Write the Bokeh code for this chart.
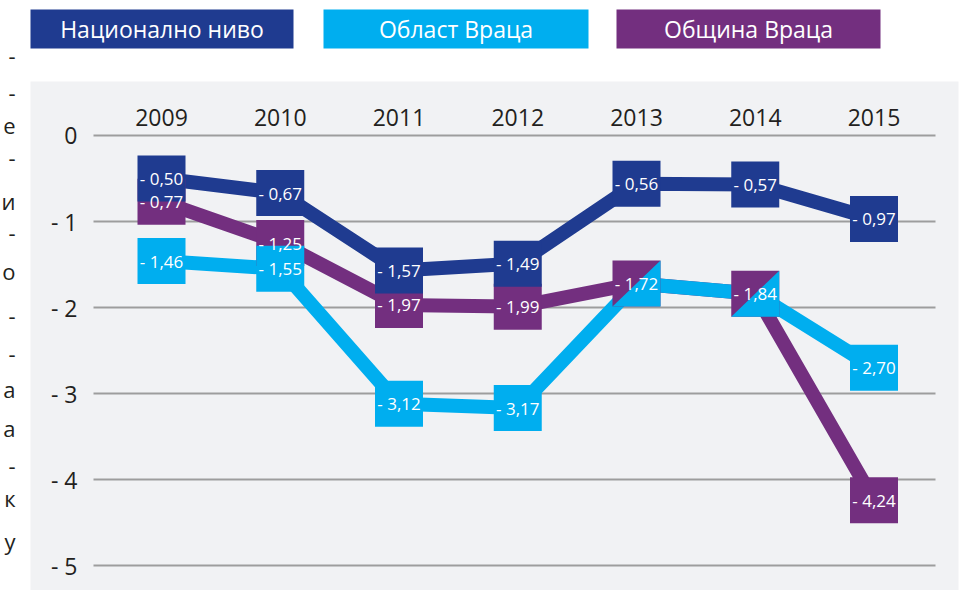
from bokeh.plotting import figure
from bokeh.models import Range1d
from bokeh.embed import file_html
from bokeh.resources import INLINE
from bokeh.core.properties import value

# ---------------- data ----------------
years = [2009, 2010, 2011, 2012, 2013, 2014, 2015]
national = [-0.50, -0.67, -1.57, -1.49, -0.56, -0.57, -0.97]
region = [-1.46, -1.55, -3.12, -3.17, -1.72, -1.84, -2.70]
municipality = [-0.77, -1.25, -1.97, -1.99, -1.72, -1.84, -4.24]
series_names = ["Национално ниво", "Област Враца", "Община Враца"]
shared_years = [2013, 2014]          # years where region & municipality share one label box
y_ticks = [0, -1, -2, -3, -4, -5]
y_tick_labels = ["0", "- 1", "- 2", "- 3", "- 4", "- 5"]
year_labels = ["2009", "2010", "2011", "2012", "2013", "2014", "2015"]

# clipped text fragments of the neighbouring page column (left edge)
strip_chars = ["-", "-", "e", "-", "и", "-", "о", "-", "-", "а", "а", "-", "к", "у"]

# ---------------- styles ----------------
C_NAT = "#1f3b90"
C_REG = "#00aeef"
C_MUN = "#732f7f"
PANEL = "#f1f2f4"
GRID = "#9d9d9d"
TXT = "#231f20"
FONT = "Open Sans"


def fmt(v):
    return "- " + f"{abs(v):.2f}".replace(".", ",")


W, H = 960, 590
# pixel-space layout ranges (canvas coordinates) + data ranges for the chart
YEAR_PX0, YEAR_STEP = 161.0, 118.75     # screen position of first year, px per year
VAL_PX0, VAL_STEP = 135.0, 86.0         # screen position of value 0, px per unit
yr_start = years[0] - YEAR_PX0 / YEAR_STEP
yr_end = yr_start + W / YEAR_STEP
v_top = VAL_PX0 / VAL_STEP
v_bot = v_top - H / VAL_STEP

p = figure(width=W, height=H, x_range=Range1d(0, W), y_range=Range1d(H, 0),
           output_backend="svg", toolbar_location=None, min_border=0,
           x_axis_location=None, y_axis_location=None)
p.extra_x_ranges = {"yrs": Range1d(yr_start, yr_end)}
p.extra_y_ranges = {"vals": Range1d(v_bot, v_top)}
p.outline_line_color = None
p.background_fill_color = "white"
p.border_fill_color = "white"
p.grid.visible = False

# grey panel
p.quad(left=[30], right=[958], top=[81], bottom=[H], fill_color=PANEL, line_color=None)

# horizontal grid lines + y tick labels
p.segment(x0=[93] * len(y_ticks), x1=[935] * len(y_ticks), y0=y_ticks, y1=y_ticks,
          y_range_name="vals", line_color=GRID, line_width=2)
p.text(x=[77] * len(y_ticks), y=y_ticks, text=y_tick_labels, y_range_name="vals",
       text_align="right", text_baseline="middle", text_color=TXT,
       text_font=value(FONT), text_font_size="23px")
# year labels (top)
p.text(x=years, y=[117] * len(years), text=year_labels, x_range_name="yrs",
       text_align="center", text_baseline="alphabetic", text_color=TXT,
       text_font=value(FONT), text_font_size="23px")

rk = dict(x_range_name="yrs", y_range_name="vals")
LW = 14
p.line(years, municipality, line_width=LW, color=C_MUN, **rk)
p.line(years, region, line_width=LW, color=C_REG, **rk)
p.line(years, national, line_width=LW, color=C_NAT, **rk)

BW, BH = 48, 46
p.rect(x=years, y=municipality, width=BW, height=BH, width_units="screen",
       height_units="screen", fill_color=C_MUN, line_color=None, **rk)
reg_x = [x for x in years if x not in shared_years]
reg_y = [v for x, v in zip(years, region) if x not in shared_years]
p.rect(x=reg_x, y=reg_y, width=BW, height=BH, width_units="screen",
       height_units="screen", fill_color=C_REG, line_color=None, **rk)

# split boxes: lower-right triangle in region colour
dx = (BW / 2) / YEAR_STEP
dy = (BH / 2) / VAL_STEP
tri_xs, tri_ys = [], []
for x, v in zip(years, region):
    if x in shared_years:
        tri_xs.append([x - dx, x + dx, x + dx])
        tri_ys.append([v - dy, v + dy, v - dy])
p.patches(tri_xs, tri_ys, fill_color=C_REG, line_color=None, **rk)

p.rect(x=years, y=national, width=BW, height=BH, width_units="screen",
       height_units="screen", fill_color=C_NAT, line_color=None, **rk)

lbl_kw = dict(text_align="center", text_baseline="middle", text_color="white",
              text_font=value(FONT), text_font_size="17px", **rk)
p.text(x=years, y=municipality, text=[fmt(v) for v in municipality], **lbl_kw)
p.text(x=reg_x, y=reg_y, text=[fmt(v) for v in reg_y], **lbl_kw)
p.text(x=years, y=national, text=[fmt(v) for v in national], **lbl_kw)

# ---------------- legend boxes ----------------
leg_left = [30, 323, 616]
leg_right = [293, 588, 880]
p.quad(left=leg_left, right=leg_right, top=[9, 9, 9], bottom=[48, 48, 48],
       fill_color=[C_NAT, C_REG, C_MUN], line_color=None)
p.text(x=[(a + b) / 2 for a, b in zip(leg_left, leg_right)], y=[28.5] * 3, text=series_names,
       text_align="center", text_baseline="middle", text_color="white",
       text_font=value(FONT), text_font_size="23px")

# ---------------- clipped left strip ----------------
strip_y = [55, 92, 125, 157, 200, 232, 270, 315, 353, 388, 427, 465, 497, 540]
p.text(x=[15] * len(strip_chars), y=strip_y, text=strip_chars, text_align="right",
       text_baseline="middle", text_color=TXT, text_font=value(FONT), text_font_size="22px")

open("out.html", "w").write(file_html(p, INLINE))
